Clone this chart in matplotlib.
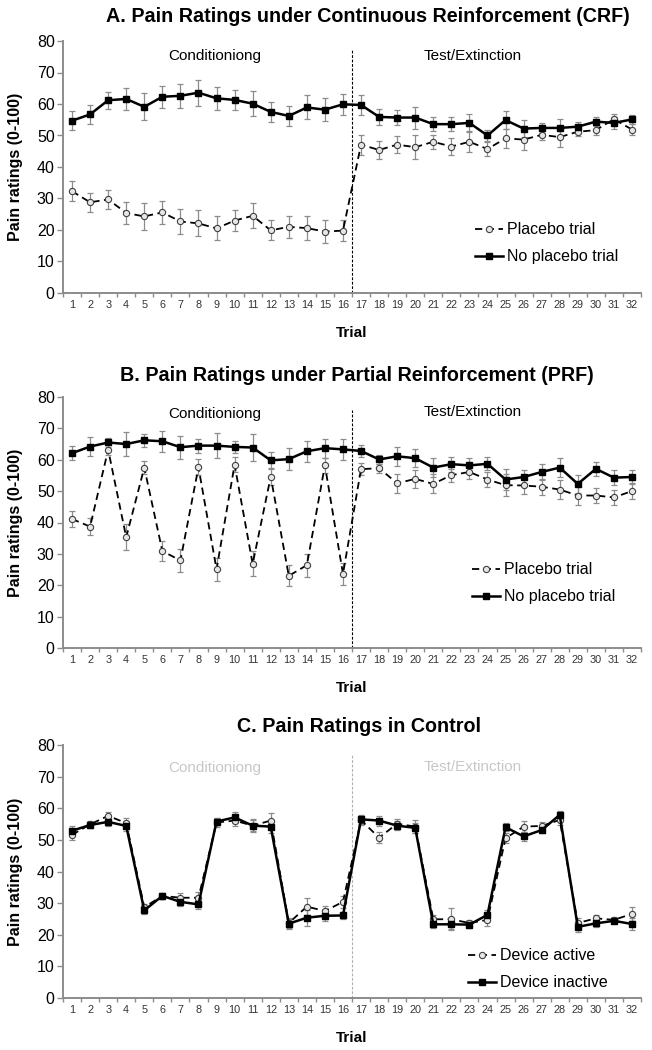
import matplotlib
matplotlib.use("Agg")
import matplotlib.pyplot as plt
import numpy as np

plt.rcParams['font.family'] = ['Liberation Sans', 'DejaVu Sans']

trials = list(range(1, 33))
tick_labels = [str(t) for t in trials]

# Panel A (CRF)
a_placebo = [32.3, 28.8, 29.7, 25.4, 24.3, 25.6, 22.7, 22.1, 20.5, 23.0, 24.5, 19.9, 21.0, 20.6, 19.5, 19.8,
             47.1, 45.4, 47.1, 46.3, 48.0, 46.5, 48.0, 45.7, 49.1, 48.7, 50.2, 49.5, 51.2, 51.7, 55.2, 51.9]
a_placebo_err = [3.1, 3.1, 3.0, 3.6, 4.3, 3.7, 3.9, 4.1, 3.8, 3.4, 4.0, 3.2, 3.5, 3.9, 3.7, 3.4,
                 3.2, 3.0, 2.7, 3.7, 2.2, 2.7, 3.3, 2.2, 3.1, 3.3, 1.5, 3.0, 1.3, 1.6, 1.5, 1.7]
a_noplacebo = [54.7, 56.7, 61.2, 61.6, 59.1, 62.3, 62.6, 63.6, 61.8, 61.3, 60.1, 57.5, 56.2, 58.9, 58.2, 59.9,
               59.7, 55.9, 55.7, 55.7, 53.6, 53.6, 54.0, 50.0, 54.9, 52.2, 52.4, 52.4, 52.8, 54.4, 54.0, 55.1]
a_noplacebo_err = [3.0, 2.9, 2.7, 3.6, 4.3, 3.5, 3.9, 4.1, 3.6, 3.2, 4.0, 3.2, 3.2, 3.8, 3.7, 3.3,
                   3.2, 2.5, 2.5, 3.5, 2.3, 2.2, 2.9, 1.9, 2.9, 2.8, 1.6, 2.8, 1.5, 1.5, 2.0, 1.3]

# Panel B (PRF)
b_placebo = [41.1, 38.7, 63.2, 35.3, 57.5, 30.9, 27.9, 57.6, 25.1, 58.4, 26.8, 54.6, 23.0, 26.4, 58.2, 23.6,
             57.0, 57.3, 52.5, 53.9, 52.3, 55.1, 56.1, 53.7, 51.9, 51.8, 51.4, 50.5, 48.6, 48.6, 48.0, 50.0]
b_placebo_err = [2.5, 2.8, 1.6, 4.2, 2.2, 3.3, 3.7, 2.5, 3.7, 2.4, 4.0, 2.8, 3.3, 3.7, 2.4, 3.4,
                 1.9, 1.5, 3.1, 2.8, 3.0, 2.1, 2.1, 2.4, 3.5, 2.7, 2.5, 2.9, 3.0, 2.4, 2.5, 2.5]
b_noplacebo = [62.1, 64.2, 65.5, 65.0, 66.2, 65.9, 64.0, 64.5, 64.5, 64.1, 63.9, 59.8, 60.2, 62.7, 63.7, 63.3,
               62.8, 60.1, 61.1, 60.5, 57.5, 58.6, 58.2, 58.7, 53.7, 54.5, 56.1, 57.5, 52.3, 57.1, 54.3, 54.5]
b_noplacebo_err = [2.3, 2.9, 1.4, 3.9, 2.1, 3.4, 3.7, 2.2, 3.9, 2.0, 4.2, 2.6, 3.6, 3.4, 3.0, 3.3,
                   1.9, 1.4, 3.0, 2.8, 2.9, 2.4, 2.3, 2.1, 3.3, 2.2, 2.6, 3.0, 2.8, 2.3, 2.4, 2.3]

# Panel C (Control)
c_active = [51.6, 54.9, 57.6, 55.3, 28.7, 32.3, 31.7, 31.7, 55.5, 56.1, 54.5, 56.1, 23.7, 28.9, 27.5, 30.4,
            56.2, 50.7, 55.1, 54.2, 24.9, 24.9, 23.7, 24.7, 50.5, 54.2, 54.4, 56.3, 23.7, 25.2, 24.7, 26.6]
c_active_err = [1.7, 1.0, 1.2, 1.6, 1.0, 1.0, 1.5, 1.8, 1.3, 1.8, 2.0, 2.5, 1.5, 2.8, 1.6, 1.8,
                1.5, 1.8, 1.6, 2.0, 1.5, 3.5, 1.0, 1.8, 1.6, 1.7, 1.2, 1.5, 1.5, 1.2, 1.0, 2.2]
c_inactive = [52.9, 54.7, 55.7, 54.4, 27.7, 32.3, 30.4, 29.6, 55.8, 57.1, 54.5, 54.2, 23.5, 25.4, 26.0, 26.1,
              56.5, 56.1, 54.5, 53.8, 23.3, 23.3, 23.2, 26.3, 54.0, 51.1, 53.1, 57.9, 22.5, 23.6, 24.4, 23.4]
c_inactive_err = [1.5, 1.0, 1.2, 1.5, 1.0, 1.0, 1.3, 1.6, 1.2, 1.8, 1.8, 2.0, 1.6, 2.5, 1.5, 1.2,
                  1.4, 1.6, 1.5, 1.6, 1.3, 1.5, 1.0, 1.5, 1.3, 1.5, 1.0, 1.2, 1.5, 1.2, 0.8, 2.0]

titles = ["A. Pain Ratings under Continuous Reinforcement (CRF)",
          "B. Pain Ratings under Partial Reinforcement (PRF)",
          "C. Pain Ratings in Control"]
phase_labels = ["Conditioniong", "Test/Extinction"]
legend_labels = [["Placebo trial", "No placebo trial"],
                 ["Placebo trial", "No placebo trial"],
                 ["Device active", "Device inactive"]]

panels = [
    (a_placebo, a_placebo_err, a_noplacebo, a_noplacebo_err),
    (b_placebo, b_placebo_err, b_noplacebo, b_noplacebo_err),
    (c_active, c_active_err, c_inactive, c_inactive_err),
]

W, H = 652, 1050
fig = plt.figure(figsize=(W / 100, H / 100), dpi=100)

left_px, right_px = 63, 641
tops = [41, 397, 745]
bottoms = [293, 648, 998]
title_y = [1.099, 1.087, 1.072]
title_x = [0.528, 0.509, 0.512]
phase_y = [[75.2, 75.2], [74.7, 75.2], [72.8, 73.2]]
phase_col = ['black', 'black', '#c8c8c8']
div_top = [77, 75.7, 76.8]
div_col = ['black', 'black', '#b0b0b0']
leg_anchor = [(0.701, 0.306), (0.697, 0.367), (0.689, 0.221)]

spine_col = '#8c8c8c'
err_col = '#8c8c8c'

for i, (p, pe, n, ne) in enumerate(panels):
    ax = fig.add_axes([left_px / W, 1 - bottoms[i] / H,
                       (right_px - left_px) / W, (bottoms[i] - tops[i]) / H])
    ax.errorbar(trials, p, yerr=pe, fmt='none', ecolor=err_col, elinewidth=0.9,
                capsize=2.5, capthick=0.9, zorder=2)
    ax.errorbar(trials, n, yerr=ne, fmt='none', ecolor=err_col, elinewidth=0.9,
                capsize=2.5, capthick=0.9, zorder=2)
    ax.plot(trials, p, linestyle=(0, (4, 2.5)), color='black', linewidth=1.3,
            marker='o', markersize=4.5, markerfacecolor='#e6e6e6',
            markeredgecolor='#404040', markeredgewidth=0.8, zorder=3,
            label=legend_labels[i][0])
    ax.plot(trials, n, linestyle='-', color='black', linewidth=1.8,
            marker='s', markersize=4.8, markerfacecolor='black',
            markeredgecolor='black', zorder=4, label=legend_labels[i][1])

    ax.axvline(16.5, ymin=0, ymax=div_top[i] / 80, color=div_col[i],
               linestyle=(0, (2.5, 1.5)), linewidth=0.8, zorder=1)

    ax.text(8.9, phase_y[i][0], phase_labels[0], ha='center', va='center',
            fontsize=11, color=phase_col[i])
    ax.text(23.2, phase_y[i][1], phase_labels[1], ha='center', va='center',
            fontsize=11, color=phase_col[i])

    ax.set_xlim(0.5, 32.5)
    ax.set_ylim(0, 80)
    ax.set_yticks(range(0, 81, 10))
    ax.set_xticks(trials)
    ax.set_xticklabels(tick_labels)
    ax.set_xticks(np.arange(0.5, 33, 1), minor=True)
    ax.tick_params(axis='x', which='major', length=0, labelsize=7.8,
                   labelcolor='#333333', pad=5)
    ax.tick_params(axis='x', which='minor', length=3, width=1.0, color=spine_col,
                   direction='out')
    ax.tick_params(axis='y', which='major', length=4, width=1.0, color=spine_col,
                   labelsize=11.5, direction='out', pad=2)
    for s in ['top', 'right']:
        ax.spines[s].set_visible(False)
    for s in ['left', 'bottom']:
        ax.spines[s].set_color(spine_col)
        ax.spines[s].set_linewidth(1.4)

    ax.set_ylabel("Pain ratings (0-100)", fontsize=11.5, fontweight='bold')
    ax.yaxis.set_label_coords(-0.070, 0.5)
    ax.set_xlabel("Trial", fontsize=11, fontweight='bold')
    ax.xaxis.set_label_coords(0.5, -0.13)

    ax.text(title_x[i], title_y[i], titles[i], transform=ax.transAxes, ha='center',
            va='center', fontsize=14.2, fontweight='bold')

    ax.legend(loc='upper left', bbox_to_anchor=leg_anchor[i], frameon=False,
              fontsize=11.5, handlelength=1.75, handletextpad=0.25,
              labelspacing=0.75, borderaxespad=0)

fig.savefig("out.png", dpi=100)
